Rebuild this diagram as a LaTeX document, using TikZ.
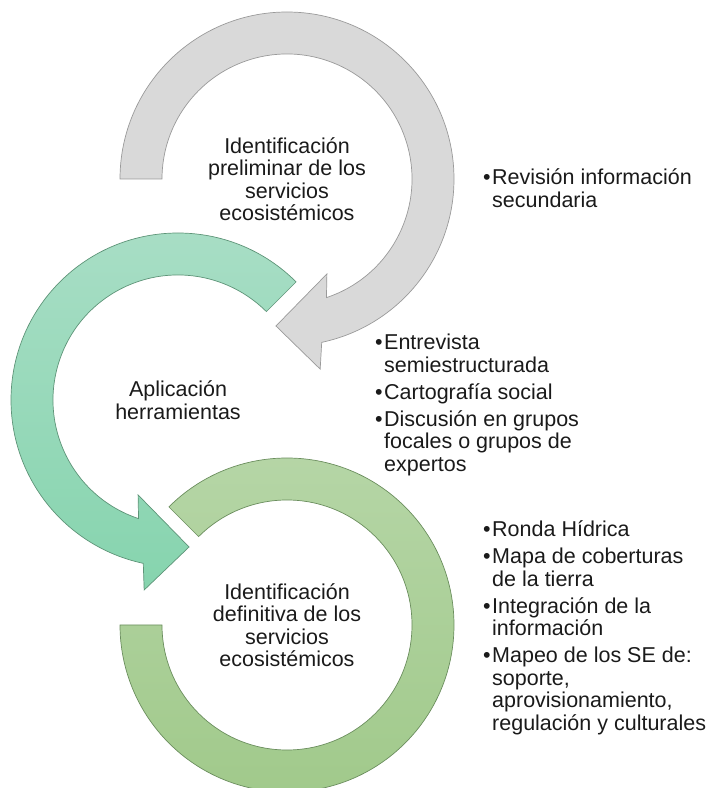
\documentclass[tikz,border=0pt]{standalone}
\usepackage{fontspec}
\setmainfont{Liberation Sans}
\usetikzlibrary{calc}
\definecolor{graybg}{HTML}{D9D9D9}
\definecolor{grayline}{HTML}{9A9A9A}
\definecolor{tealtop}{HTML}{A9DEC6}
\definecolor{tealbot}{HTML}{86D4AE}
\definecolor{tealline}{HTML}{5E9478}
\definecolor{greentop}{HTML}{B6D6A7}
\definecolor{greenbot}{HTML}{A0C98A}
\definecolor{greenline}{HTML}{6B8E5E}
\definecolor{txt}{HTML}{1A1A1A}
\newcommand\bitem[1]{\hangindent=9pt\hangafter=1\noindent\makebox[9pt][l]{•}#1\par}
\begin{document}
\begin{tikzpicture}[x=1pt,y=1pt,
  ringline/.style={line width=0.7pt},
  grayarrow/.style={ringline,draw=grayline,fill=graybg},
  tealarrow/.style={ringline,draw=tealline,top color=tealtop,bottom color=tealbot},
  greenring/.style={ringline,draw=greenline,top color=greentop,bottom color=greenbot},
  lbl/.style={align=center,inner sep=0pt,text=txt,font=\fontsize{21.5}{22.5}\selectfont},
  lst/.style={anchor=base west,inner sep=0pt,text=txt,font=\fontsize{21.5}{22.5}\selectfont}]
\useasboundingbox (0,0) rectangle (706,788);
\coordinate (cg) at (287,609);
\coordinate (ct) at (178,388);
\coordinate (cb) at (287,163);
% gray arrow
\path[grayarrow] ($(cg)+(180:167)$) arc[start angle=180,end angle=-78,radius=167]
  -- ($(cg)+(-80.1:193)$) -- ($(cg)+(-94.3:147.4)$) -- ($(cg)+(-67.2:103)$) -- ($(cg)+(-71.6:125)$)
  arc[start angle=-71.6,end angle=180,radius=125] -- cycle;
% teal arrow
\path[tealarrow] ($(ct)+(45:167)$) arc[start angle=45,end angle=258,radius=167]
  -- ($(ct)+(259.9:193)$) -- ($(ct)+(274.3:147.4)$) -- ($(ct)+(247.2:103)$) -- ($(ct)+(251.6:125)$)
  arc[start angle=251.6,end angle=45,radius=125] -- cycle;
% green ring
\path[greenring] ($(cb)+(135:167)$) arc[start angle=135,end angle=-180,radius=167]
  -- ($(cb)+(180:125)$) arc[start angle=-180,end angle=135,radius=125] -- cycle;
% centre labels
\node[lbl] (t1) at (cg) {Identificación\\preliminar de los\\servicios\\ecosistémicos};
\node[lbl] (t2) at (ct) {Aplicación\\herramientas};
\node[lbl] (t3) at (cb) {Identificación\\definitiva de los\\servicios\\ecosistémicos};
% lists
\node[lst] (l1) at (483,603) {\parbox[t]{240pt}{\raggedright\parindent=0pt\parskip=4.5pt
  \bitem{Revisión información\newline secundaria}}};
\node[lst] (l2) at (375,438) {\parbox[t]{240pt}{\raggedright\parindent=0pt\parskip=4.5pt
  \bitem{Entrevista\newline semiestructurada}
  \bitem{Cartografía social}
  \bitem{Discusión en grupos\newline focales o grupos de\newline expertos}}};
\node[lst] (l3) at (483,251) {\parbox[t]{240pt}{\raggedright\parindent=0pt\parskip=4.5pt
  \bitem{Ronda Hídrica}
  \bitem{Mapa de coberturas\newline de la tierra}
  \bitem{Integración de la\newline información}
  \bitem{Mapeo de los SE de:\newline soporte,\newline aprovisionamiento,\newline regulación y culturales}}};
\end{tikzpicture}
\end{document}
